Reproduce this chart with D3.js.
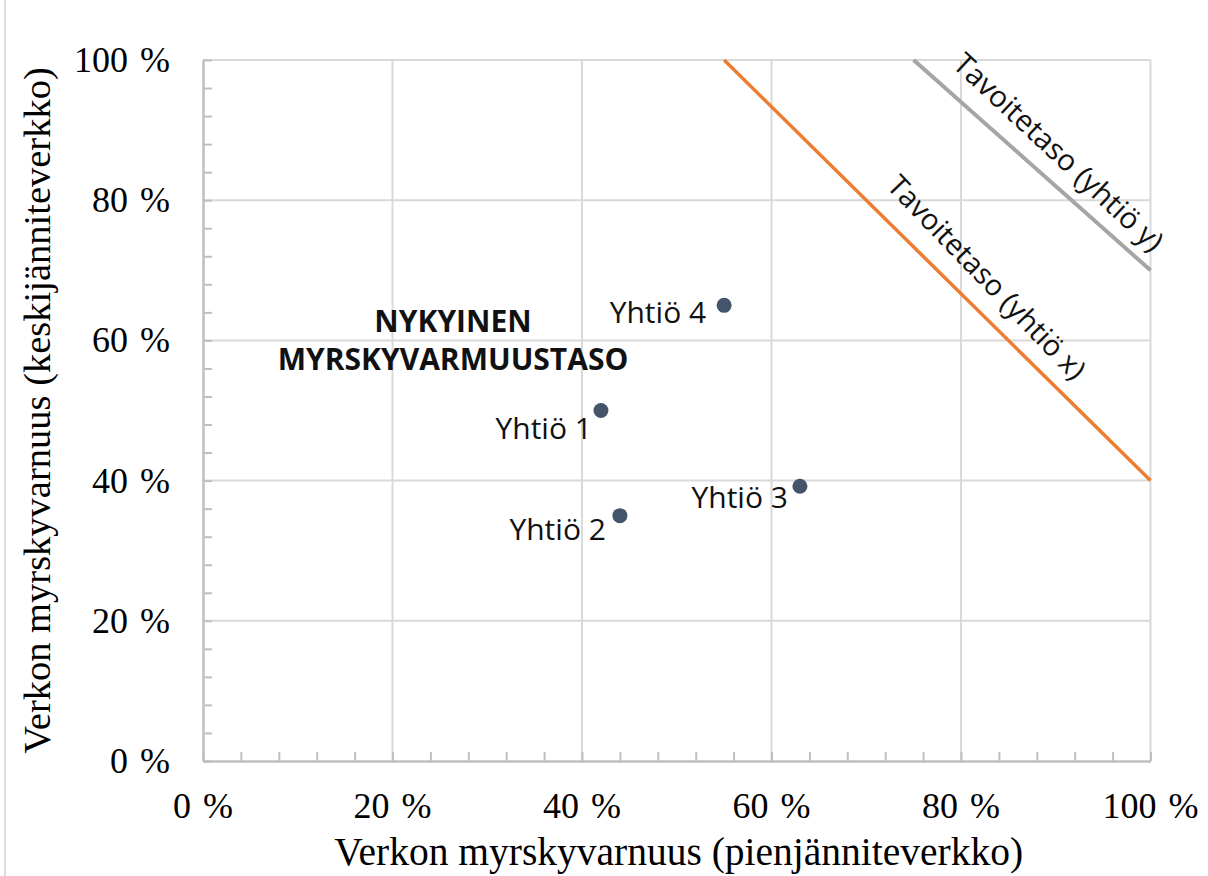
<!DOCTYPE html>
<html>
<head>
<meta charset="utf-8">
<script src="https://cdn.jsdelivr.net/npm/d3@7"></script>
<style>
  html, body { margin: 0; padding: 0; background: #fff; }
  svg { display: block; }
</style>
</head>
<body>
<svg id="chart" width="1208" height="876"></svg>
<script>
// ---- data ----
const companies = ["Yhtiö 1", "Yhtiö 2", "Yhtiö 3", "Yhtiö 4"];
const lowVoltage = [0.42, 0.44, 0.63, 0.55];      // x: pienjänniteverkko
const mediumVoltage = [0.50, 0.35, 0.392, 0.65];  // y: keskijänniteverkko
const targetXLow = [0.55, 1.00];
const targetXMed = [1.00, 0.40];
const targetYLow = [0.75, 1.00];
const targetYMed = [1.00, 0.70];
const targetNames = ["Tavoitetaso (yhtiö x)", "Tavoitetaso (yhtiö y)"];
const majorTicks = [0, 0.2, 0.4, 0.6, 0.8, 1.0];
const tickLabels = ["0 %", "20 %", "40 %", "60 %", "80 %", "100 %"];
const xTitle = "Verkon myrskyvarnuus (pienjänniteverkko)";
const yTitle = "Verkon myrskyvarnuus (keskijänniteverkko)";
const annotation = ["NYKYINEN", "MYRSKYVARMUUSTASO"];

// ---- layout ----
const svg = d3.select("#chart");
const x = d3.scaleLinear().domain([0, 1]).range([203, 1150.5]);
const y = d3.scaleLinear().domain([0, 1]).range([761, 60]);
const minor = d3.range(0, 1.0001, 0.04);

// outer left border
svg.append("line").attr("x1", 5).attr("x2", 5).attr("y1", 0).attr("y2", 876)
  .attr("stroke", "#d0d0d0").attr("stroke-width", 1.5);

// gridlines
const grid = svg.append("g").attr("stroke", "#d9d9d9").attr("stroke-width", 2);
grid.selectAll(".gx").data(majorTicks.slice(1)).join("line")
  .attr("x1", d => x(d)).attr("x2", d => x(d)).attr("y1", y(0)).attr("y2", y(1));
grid.selectAll(".gy").data(majorTicks.slice(1)).join("line")
  .attr("y1", d => y(d)).attr("y2", d => y(d)).attr("x1", x(0)).attr("x2", x(1));

// axes (ticks pointing inward)
const xAxis = svg.append("g").attr("transform", `translate(0,${y(0)})`)
  .call(d3.axisTop(x).tickValues(minor).tickSize(9).tickFormat("").tickSizeOuter(0));
const yAxis = svg.append("g").attr("transform", `translate(${x(0)},0)`)
  .call(d3.axisRight(y).tickValues(minor).tickSize(9).tickFormat("").tickSizeOuter(0));
[xAxis, yAxis].forEach(a => {
  a.select(".domain").attr("stroke", "#bfbfbf").attr("stroke-width", 2.5);
  a.selectAll(".tick line").attr("stroke", "#bfbfbf").attr("stroke-width", 2);
});

// tick labels
const serif = "'Liberation Serif', 'Times New Roman', serif";
svg.append("g").selectAll("text").data(majorTicks).join("text")
  .attr("x", d => x(d)).attr("y", 818)
  .attr("text-anchor", "middle")
  .attr("font-family", serif).attr("font-size", 36).attr("word-spacing", 3)
  .attr("fill", "#000")
  .text((d, i) => tickLabels[i]);
svg.append("g").selectAll("text").data(majorTicks).join("text")
  .attr("x", 170).attr("y", d => y(d) + 12)
  .attr("text-anchor", "end")
  .attr("font-family", serif).attr("font-size", 36).attr("word-spacing", 3)
  .attr("fill", "#000")
  .text((d, i) => tickLabels[i]);

// axis titles
svg.append("text").attr("x", (x(0) + x(1)) / 2 + 2).attr("y", 865)
  .attr("text-anchor", "middle").attr("font-family", serif).attr("font-size", 39.5)
  .attr("fill", "#000").text(xTitle);
svg.append("text")
  .attr("transform", `translate(50,${(y(0) + y(1)) / 2}) rotate(-90)`)
  .attr("text-anchor", "middle").attr("font-family", serif).attr("font-size", 38.5)
  .attr("fill", "#000").text(yTitle);

// target lines
const line = d3.line().x(d => x(d[0])).y(d => y(d[1]));
svg.append("path").datum(d3.zip(targetYLow, targetYMed)).attr("d", line)
  .attr("fill", "none").attr("stroke", "#a5a5a5").attr("stroke-width", 4);
svg.append("path").datum(d3.zip(targetXLow, targetXMed)).attr("d", line)
  .attr("fill", "none").attr("stroke", "#ed7d31").attr("stroke-width", 3.5);

const sans = "'Open Sans', 'Noto Sans', sans-serif";
// target labels
svg.append("text").attr("transform", "translate(985,279) rotate(46)")
  .attr("text-anchor", "middle").attr("dominant-baseline", "middle")
  .attr("font-family", sans).attr("font-size", 29).attr("fill", "#111")
  .text(targetNames[0]);
svg.append("text").attr("transform", "translate(1057,154) rotate(43)")
  .attr("text-anchor", "middle").attr("dominant-baseline", "middle")
  .attr("font-family", sans).attr("font-size", 29.5).attr("fill", "#111")
  .text(targetNames[1]);

// points
const pts = companies.map((c, i) => ({ name: c, x: lowVoltage[i], y: mediumVoltage[i] }));
const labelOffsets = [[-9, 28], [-14, 24], [-12, 22], [-18, 18]];
svg.append("g").selectAll("circle").data(pts).join("circle")
  .attr("cx", d => x(d.x)).attr("cy", d => y(d.y)).attr("r", 7.5)
  .attr("fill", "#44546a");
svg.append("g").selectAll("text").data(pts).join("text")
  .attr("x", (d, i) => x(d.x) + labelOffsets[i][0])
  .attr("y", (d, i) => y(d.y) + labelOffsets[i][1])
  .attr("text-anchor", "end")
  .attr("font-family", sans).attr("font-size", 30).attr("fill", "#111")
  .text(d => d.name);

// annotation
svg.append("text").attr("x", 453).attr("y", 332)
  .attr("text-anchor", "middle").attr("font-family", sans).attr("font-weight", "bold")
  .attr("font-size", 30).attr("fill", "#111")
  .selectAll("tspan").data(annotation).join("tspan")
  .attr("x", 453).attr("dy", (d, i) => i === 0 ? 0 : 38).text(d => d);
</script>
</body>
</html>
